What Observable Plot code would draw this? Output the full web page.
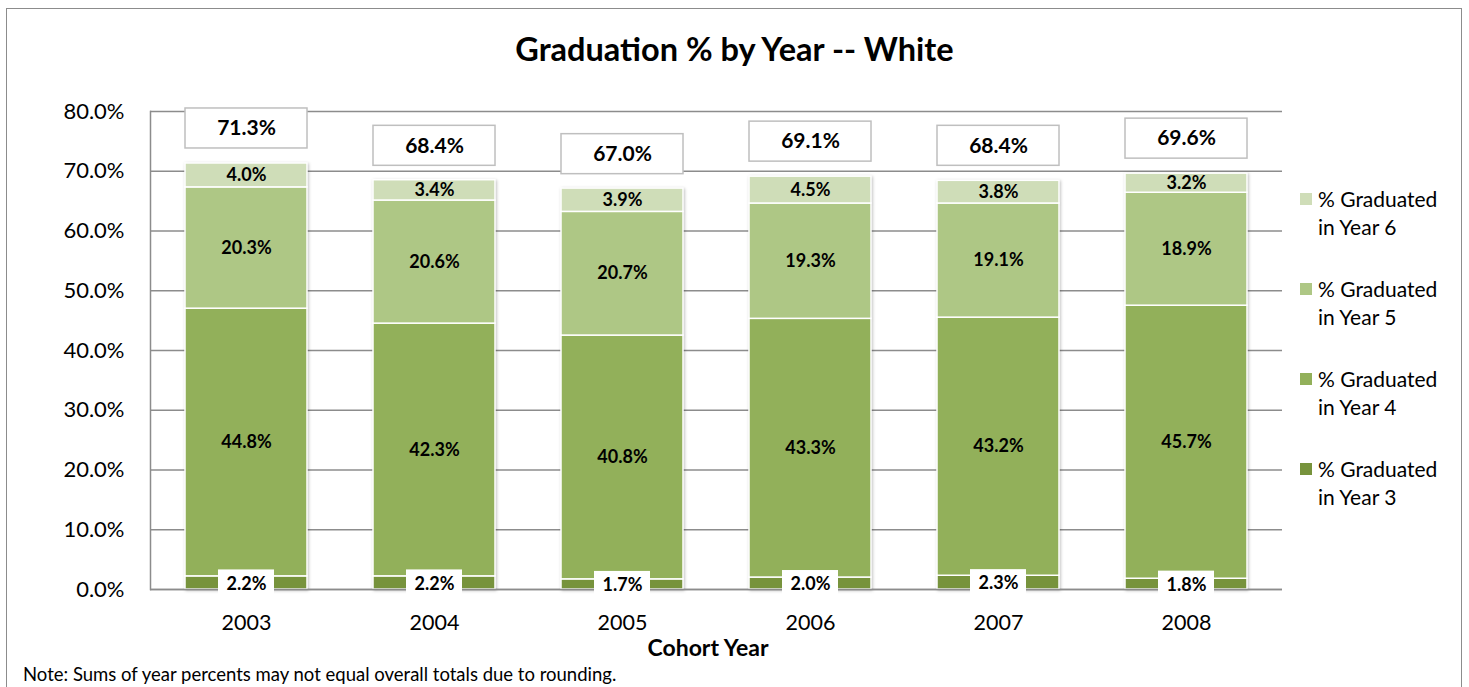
<!DOCTYPE html>
<html>
<head>
<meta charset="utf-8">
<script src="https://cdn.jsdelivr.net/npm/d3@7"></script>
<script src="https://cdn.jsdelivr.net/npm/@observablehq/plot@0.6"></script>
<style>
  html, body { margin: 0; padding: 0; background: #fff; }
  body { font-family: Lato, "Open Sans", sans-serif; color: #000; }
  #wrap { position: relative; width: 1469px; height: 687px; overflow: hidden; }
  #border { position: absolute; left: 6px; top: 8px; width: 1456px; height: 720px; border: 1.5px solid #8c8c8c; box-sizing: border-box; }
  #title { position: absolute; left: 0; width: 1469px; top: 29px; text-align: center; font-weight: bold; font-size: 32.5px; line-height: 40px; }
  #chart { position: absolute; left: 0; top: 0; }
  #xlabel { position: absolute; left: 558px; width: 300px; top: 633px; text-align: center; font-weight: bold; font-size: 23px; line-height: 28px; }
  #note { position: absolute; left: 23px; top: 664px; font-size: 18.5px; line-height: 21px; white-space: nowrap; }
  #legend { position: absolute; left: 1300px; top: 185px; }
  .item { position: relative; height: 90px; }
  .sw { position: absolute; left: 0; top: 8px; width: 12px; height: 12px; }
  .lt { position: absolute; left: 18px; top: 0; font-size: 21px; line-height: 28px; white-space: nowrap; }
</style>
</head>
<body>
<div id="wrap">
  <div id="border"></div>
  <div id="chart"></div>
  <div id="title">Graduation % by Year -- White</div>
  <div id="xlabel">Cohort Year</div>
  <div id="legend"></div>
  <div id="note">Note: Sums of year percents may not equal overall totals due to rounding.</div>
</div>
<script>
// ---- data ----
const years = ["2003", "2004", "2005", "2006", "2007", "2008"];
const seriesNames = ["% Graduated in Year 3", "% Graduated in Year 4", "% Graduated in Year 5", "% Graduated in Year 6"];
const year3 = [2.2, 2.2, 1.7, 2.0, 2.3, 1.8];
const year4 = [44.8, 42.3, 40.8, 43.3, 43.2, 45.7];
const year5 = [20.3, 20.6, 20.7, 19.3, 19.1, 18.9];
const year6 = [4.0, 3.4, 3.9, 4.5, 3.8, 3.2];
const totals = [71.3, 68.4, 67.0, 69.1, 68.4, 69.6];
const yTicks = [0, 10, 20, 30, 40, 50, 60, 70, 80];
const colors = ["#77933C", "#92B05A", "#AEC785", "#CFDDB8"];

// ---- tables built from the arrays ----
const seriesValues = [year3, year4, year5, year6];
const tidy = [];
seriesNames.forEach((s, si) => years.forEach((y, i) => tidy.push({year: y, series: s, value: seriesValues[si][i]})));
const y3data = years.map((y, i) => ({year: y, value: year3[i]}));
const totData = years.map((y, i) => ({year: y, total: totals[i]}));
const pct = v => v.toFixed(1) + "%";

const chart = Plot.plot({
  width: 1469,
  height: 687,
  marginLeft: 150,
  marginRight: 187,
  marginTop: 111,
  marginBottom: 98,
  style: {fontFamily: "Lato, 'Open Sans', sans-serif", background: "transparent", color: "#000"},
  x: {domain: years, paddingInner: 0.353, paddingOuter: 0.1765, axis: null},
  y: {domain: [0, 80], axis: null},
  color: {domain: seriesNames, range: colors},
  marks: [
    Plot.gridY(yTicks, {stroke: "#8c8c8c", strokeOpacity: 1, strokeWidth: 1.3}),
    Plot.axisY({ticks: yTicks, tickFormat: pct, tickSize: 0, tickPadding: 26, fontSize: 22, label: null, fill: "#000"}),
    Plot.axisX({tickSize: 0, tickPadding: 25, fontSize: 21.5, label: null, fill: "#000"}),
    Plot.barY(tidy, {x: "year", y: "value", z: "series", fill: "series", stroke: "white", strokeWidth: 1.5}),
    Plot.frame({anchor: "left", stroke: "#8c8c8c", strokeWidth: 1.5}),
    Plot.ruleY([0], {stroke: "#8c8c8c", strokeWidth: 1.5}),
    Plot.text(tidy, Plot.stackY({x: "year", y: "value", z: "series",
      text: d => d.series === seriesNames[0] ? "" : pct(d.value),
      fontWeight: "bold", fontSize: 18, fill: "#000"})),
    Plot.barY(y3data, {x: "year", y1: d => d.value / 2, y2: d => d.value / 2,
      insetTop: -13, insetBottom: -14, insetLeft: 33, insetRight: 33, fill: "white"}),
    Plot.text(y3data, {x: "year", y: d => d.value / 2, text: d => pct(d.value), fontWeight: "bold", fontSize: 18, fill: "#000", dy: 1}),
    Plot.barY(totData, {x: "year", y1: "total", y2: "total",
      insetTop: -55, insetBottom: 15, fill: "white", stroke: "#bfbfbf", strokeWidth: 1.5}),
    Plot.text(totData, {x: "year", y: "total", dy: -35, text: d => pct(d.total), fontWeight: "bold", fontSize: 21, fill: "#000"})
  ]
});
document.getElementById("chart").appendChild(chart);
// subtle shadow on stacked bars
const barGroups = chart.querySelectorAll("g[aria-label='bar']");
if (barGroups.length) barGroups[0].style.filter = "drop-shadow(1px 1px 1.5px rgba(0,0,0,0.25))";

// ---- legend (top item = Year 6) ----
const legend = document.getElementById("legend");
seriesNames.slice().reverse().forEach(s => {
  const idx = seriesNames.indexOf(s);
  const item = document.createElement("div");
  item.className = "item";
  const sw = document.createElement("div");
  sw.className = "sw";
  sw.style.background = colors[idx];
  const lt = document.createElement("div");
  lt.className = "lt";
  const parts = s.split(" in ");
  lt.innerHTML = parts[0] + "<br>in " + parts[1];
  item.appendChild(sw);
  item.appendChild(lt);
  legend.appendChild(item);
});
</script>
</body>
</html>
